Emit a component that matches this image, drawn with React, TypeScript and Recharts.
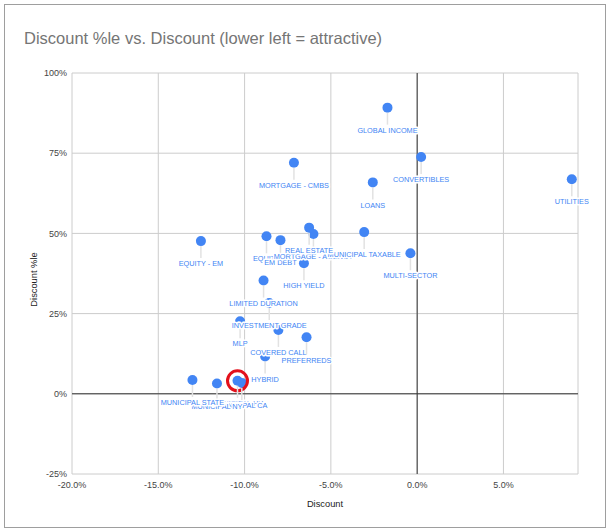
import React from 'react';
import {
  ScatterChart,
  Scatter,
  XAxis,
  YAxis,
  CartesianGrid,
  ReferenceLine,
  ReferenceDot,
} from 'recharts';

const sectors = [
  'GLOBAL INCOME',
  'CONVERTIBLES',
  'UTILITIES',
  'MORTGAGE - CMBS',
  'LOANS',
  'EQUITY - EM',
  'EQUITY',
  'EM DEBT',
  'MORTGAGE - AGENCY',
  'MUNICIPAL TAXABLE',
  'REAL ESTATE',
  'MULTI-SECTOR',
  'HIGH YIELD',
  'LIMITED DURATION',
  'MLP',
  'INVESTMENT GRADE',
  'COVERED CALL',
  'PREFERREDS',
  'HYBRID',
  'MUNICIPAL HY',
  'MUNICIPAL CA',
  'MUNICIPAL NY',
  'MUNICIPAL STATE',
];

const discounts = [
  -0.0172, 0.0023, 0.0896, -0.0714, -0.0257, -0.1253, -0.0873, -0.0792,
  -0.0601, -0.0307, -0.0626, -0.0039, -0.0656, -0.089, -0.1026, -0.0857,
  -0.0804, -0.0641, -0.0881, -0.1041, -0.1016, -0.116, -0.1302,
];

const discountPercentiles = [
  0.892, 0.738, 0.669, 0.72, 0.659, 0.476, 0.491, 0.479, 0.498, 0.504, 0.518,
  0.438, 0.407, 0.353, 0.226, 0.283, 0.199, 0.176, 0.116, 0.0406, 0.034,
  0.032, 0.043,
];

const highlightedSector = 'MUNICIPAL HY';

const xTicks = [-0.2, -0.15, -0.1, -0.05, 0, 0.05];
const yTicks = [-0.25, 0, 0.25, 0.5, 0.75, 1];
const xDomain = [-0.2, 0.0932];
const yDomain = [-0.25, 1];

const data = sectors.map((name, i) => ({
  name,
  x: discounts[i],
  y: discountPercentiles[i],
}));
const highlighted = data.find((d) => d.name === highlightedSector)!;

const FONT = "'Liberation Sans', Arial, sans-serif";
const BLUE = '#4285f4';

const PointShape = (p: any) => (
  <circle cx={p.cx} cy={p.cy} r={5} fill={BLUE} />
);

const LabelShape = (p: any) => {
  const name = p.payload?.name ?? '';
  return (
    <g>
      <line
        x1={p.cx}
        x2={p.cx}
        y1={p.cy + 5}
        y2={p.cy + 17}
        stroke="#e2e2e2"
        strokeWidth={1.5}
      />
      <text
        x={p.cx}
        y={p.cy + 25.2}
        textAnchor="middle"
        fontFamily={FONT}
        fontSize={7.3}
        fill={BLUE}
        stroke="#ffffff"
        strokeWidth={3}
        strokeLinejoin="round"
        paintOrder="stroke"
      >
        {name}
      </text>
    </g>
  );
};

const XTitle = (p: any) => {
  const vb = p.viewBox || { x: 72, y: 474, width: 506, height: 30 };
  return (
    <text
      x={vb.x + vb.width / 2}
      y={vb.y + 33}
      textAnchor="middle"
      fontFamily={FONT}
      fontSize={9.3}
      fill="#222"
    >
      Discount
    </text>
  );
};

const YTitle = (p: any) => {
  const vb = p.viewBox || { x: 22, y: 73, width: 50, height: 401 };
  const cx = vb.x + 15;
  const cy = vb.y + vb.height / 2 + 6;
  return (
    <text
      x={cx}
      y={cy}
      transform={`rotate(-90 ${cx} ${cy})`}
      textAnchor="middle"
      fontFamily={FONT}
      fontSize={9.3}
      fill="#222"
    >
      Discount %le
    </text>
  );
};

export default function App() {
  return (
    <div
      style={{
        position: 'absolute',
        left: 0,
        top: 0,
        width: 610,
        height: 531,
        background: '#fff',
        fontFamily: FONT,
      }}
    >
      <div
        style={{
          position: 'absolute',
          left: 24,
          top: 30,
          fontSize: 16.5,
          lineHeight: '16px',
          color: '#757575',
          whiteSpace: 'nowrap',
        }}
      >
        Discount %le vs. Discount (lower left = attractive)
      </div>
      <div style={{ position: 'absolute', left: 0, top: 0 }}>
        <ScatterChart
          width={610}
          height={531}
          margin={{ top: 73, right: 32, bottom: 27, left: 22 }}
        >
          <CartesianGrid stroke="#cccccc" />
          <XAxis
            type="number"
            dataKey="x"
            domain={xDomain}
            ticks={xTicks}
            axisLine={false}
            tickLine={false}
            tickSize={0}
            tickMargin={8}
            height={30}
            tick={{ fontSize: 9, fill: '#444', fontFamily: FONT }}
            tickFormatter={(v: number) => `${(v * 100).toFixed(1)}%`}
            label={{ content: XTitle }}
          />
          <YAxis
            type="number"
            dataKey="y"
            domain={yDomain}
            ticks={yTicks}
            axisLine={false}
            tickLine={false}
            tickSize={0}
            tickMargin={5}
            width={50}
            tick={{ fontSize: 9, fill: '#444', fontFamily: FONT }}
            tickFormatter={(v: number) => `${Math.round(v * 100)}%`}
            label={{ content: YTitle }}
          />
          <ReferenceLine x={0} stroke="#333" strokeWidth={1} />
          <ReferenceLine y={0} stroke="#333" strokeWidth={1} />
          <Scatter
            data={data}
            shape={PointShape}
            isAnimationActive={false}
          />
          <ReferenceDot
            x={highlighted.x}
            y={highlighted.y}
            r={10}
            fill="none"
            stroke="#e3101b"
            strokeWidth={3}
          />
          <Scatter
            data={data}
            shape={LabelShape}
            isAnimationActive={false}
          />
        </ScatterChart>
      </div>
      <div
        style={{
          position: 'absolute',
          left: 4,
          top: 4,
          width: 602,
          height: 524,
          boxSizing: 'border-box',
          border: '1px solid #9e9e9e',
          pointerEvents: 'none',
        }}
      />
    </div>
  );
}
